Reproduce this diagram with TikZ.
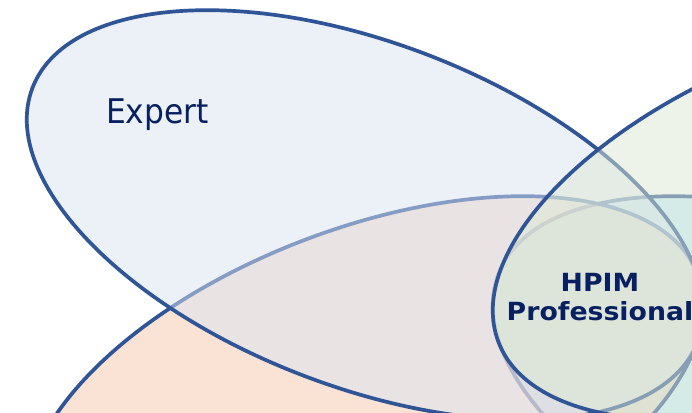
\documentclass[tikz,border=0pt]{standalone}
\usepackage{fontspec}
\newfontfamily\labelfont[FakeStretch=0.92]{DejaVu Sans}
\newfontfamily\corefont[FakeStretch=1.07]{DejaVu Sans}

\definecolor{rimblue}{RGB}{47,85,151}
\definecolor{navytext}{RGB}{8,32,96}
\definecolor{expertfill}{RGB}{219,229,243}
\definecolor{peachfill}{RGB}{247,199,171}
\definecolor{greenfill}{RGB}{221,233,211}
\definecolor{aquafill}{RGB}{159,223,255}

\tikzset{
  petal/.style={draw=rimblue, line width=3.7pt, fill opacity=0.5},
  petaltext/.style={text=navytext, inner sep=0pt}
}

\begin{document}
\begin{tikzpicture}[x=1pt,y=-1pt]
  \useasboundingbox (0,0) rectangle (692,412);
  \fill[white] (0,0) rectangle (692,412);
  \begin{scope}
    \clip (0,0) rectangle (692,412);
    % four congruent petals, symmetric about x=598 and y=308
    \draw[petal, fill=aquafill]   [rotate around={-20.9:(831,401)}] (831,401) ellipse [x radius=356pt, y radius=172pt];
    \draw[petal, fill=peachfill]  [rotate around={20.9:(365,401)}]  (365,401) ellipse [x radius=356pt, y radius=172pt];
    \draw[petal, fill=expertfill] [rotate around={-20.9:(365,215)}] (365,215) ellipse [x radius=356pt, y radius=172pt];
    \draw[petal, fill=greenfill]  [rotate around={20.9:(831,215)}]  (831,215) ellipse [x radius=356pt, y radius=172pt];
  \end{scope}

  \node[petaltext, anchor=base west, font=\labelfont\fontsize{34}{40}\selectfont] (expert) at (106,123) {Expert};
  \node[petaltext, anchor=base, font=\corefont\bfseries\fontsize{25}{28}\selectfont] (hpim) at (600,291.7) {HPIM};
  \node[petaltext, anchor=base, font=\corefont\bfseries\fontsize{25}{28}\selectfont] (prof) at (600,320) {Professional};
\end{tikzpicture}
\end{document}
